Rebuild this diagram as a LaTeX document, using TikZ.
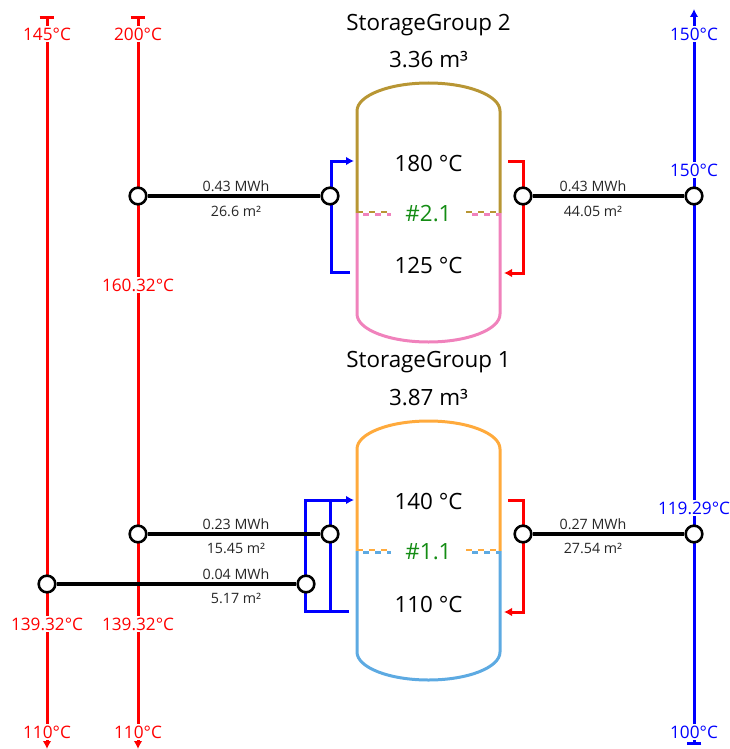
\documentclass[tikz,border=0pt]{standalone}
\usepackage{fontspec}
\setmainfont{Open Sans}
\usetikzlibrary{arrows.meta}
\definecolor{tgold}{RGB}{184,150,52}
\definecolor{tpink}{RGB}{240,130,188}
\definecolor{torange}{RGB}{255,170,60}
\definecolor{tsky}{RGB}{93,170,226}
\definecolor{tgreen}{RGB}{20,140,20}
\definecolor{tred}{RGB}{255,0,0}
\definecolor{tblue}{RGB}{0,0,255}
\begin{document}
\begin{tikzpicture}[x=0.75pt,y=-0.75pt,
  vline/.style={line width=2.25pt},
  conn/.style={line width=2.3pt, draw=black},
  port/.style={circle, draw=black, fill=white, line width=1.9pt, minimum size=12.5pt, inner sep=0pt},
  templbl/.style={fill=white, inner xsep=2.5pt, inner ysep=1.5pt, font=\fontsize{12.9}{14}\selectfont},
  smalllbl/.style={font=\fontsize{10.7}{12}\selectfont, text=black!85, inner sep=0pt},
  bigtxt/.style={font=\fontsize{16.8}{19}\selectfont, inner sep=0pt},
  tankline/.style={line width=2.25pt},
  bracket/.style={line width=2.25pt},
  divgold/.style={line width=1.7pt, dash pattern=on 4.5pt off 4.5pt},
  divother/.style={line width=1.7pt, dash pattern=on 4.5pt off 4.5pt, dash phase=4.5pt},
  endarrow/.style={-{Latex[length=6pt,width=6.5pt]}}
]
\useasboundingbox (0,0) rectangle (730,749);

% ---------------- vertical supply lines ----------------
\coordinate (r1t) at (47,16);  \coordinate (r1b) at (47,749);
\coordinate (r2t) at (138,16); \coordinate (r2b) at (138,749);
\coordinate (b1t) at (694,9);  \coordinate (b1b) at (694,745);
\draw[vline, tred, {Bar[width=11pt]}-{Latex[length=6pt,width=6.5pt]}] (r1t) -- (r1b);
\draw[vline, tred, {Bar[width=11pt]}-{Latex[length=6pt,width=6.5pt]}] (r2t) -- (r2b);
\draw[vline, tblue, {Bar[width=11pt]}-{Latex[length=6pt,width=6.5pt]}] (b1b) -- (b1t);

% ---------------- tank 2 ----------------
\draw[tankline, tgold] (357,213) -- (357,111) arc[start angle=180, end angle=0, x radius=53.625pt, y radius=21pt] -- (500,213);
\draw[tankline, tpink] (357,213) -- (357,314) arc[start angle=180, end angle=360, x radius=53.625pt, y radius=21pt] -- (500,213);
\draw[divgold, tgold] (357,212) -- (391,212);
\draw[divother, tpink] (357,214.5) -- (391,214.5);
\draw[divgold, tgold] (466,212) -- (500,212);
\draw[divother, tpink] (466,214.5) -- (500,214.5);

% ---------------- tank 1 ----------------
\draw[tankline, torange] (357,551) -- (357,449) arc[start angle=180, end angle=0, x radius=53.625pt, y radius=21pt] -- (500,551);
\draw[tankline, tsky] (357,551) -- (357,652) arc[start angle=180, end angle=360, x radius=53.625pt, y radius=21pt] -- (500,551);
\draw[divgold, torange] (357,550) -- (391,550);
\draw[divother, tsky] (357,552.5) -- (391,552.5);
\draw[divgold, torange] (466,550) -- (500,550);
\draw[divother, tsky] (466,552.5) -- (500,552.5);

% ---------------- tank texts ----------------
\node[bigtxt] (sg2) at (428.5,25) {StorageGroup 2};
\node[bigtxt] (v2) at (428.5,60) {3.36 m³};
\node[bigtxt] (t2h) at (428.5,163) {180 °C};
\node[bigtxt, text=tgreen] (id2) at (428.5,214) {\#2.1};
\node[bigtxt] (t2c) at (428.5,265) {125 °C};
\node[bigtxt] (sg1) at (428.5,362) {StorageGroup 1};
\node[bigtxt] (v1) at (428.5,398) {3.87 m³};
\node[bigtxt] (t1h) at (428.5,501) {140 °C};
\node[bigtxt, text=tgreen] (id1) at (428.5,552) {\#1.1};
\node[bigtxt] (t1c) at (428.5,604) {110 °C};

% ---------------- brackets ----------------
\coordinate (bl2a) at (350,272); \coordinate (bl2b) at (331,272);
\coordinate (bl2c) at (331,161); \coordinate (bl2d) at (354,161);
\draw[bracket, tblue, endarrow] (bl2a) -- (bl2b) -- (bl2c) -- (bl2d);
\coordinate (br2a) at (508,161); \coordinate (br2b) at (523,161);
\coordinate (br2c) at (523,273); \coordinate (br2d) at (504,273);
\draw[bracket, tred, endarrow] (br2a) -- (br2b) -- (br2c) -- (br2d);

\coordinate (bl1a) at (349,611); \coordinate (bl1b) at (305,611);
\coordinate (bl1c) at (305,500); \coordinate (bl1d) at (354,500);
\coordinate (bl1e) at (330,500); \coordinate (bl1f) at (330,611);
\draw[bracket, tblue, endarrow] (bl1a) -- (bl1b) -- (bl1c) -- (bl1d);
\draw[bracket, tblue] (bl1e) -- (bl1f);
\coordinate (br1a) at (508,500); \coordinate (br1b) at (523,500);
\coordinate (br1c) at (523,612); \coordinate (br1d) at (504,612);
\draw[bracket, tred, endarrow] (br1a) -- (br1b) -- (br1c) -- (br1d);

% ---------------- ports ----------------
\node[port] (p2a) at (138,196) {};
\node[port] (p2b) at (330,196) {};
\node[port] (p2c) at (523,196) {};
\node[port] (p2d) at (694,196) {};
\node[port] (p1a) at (138,534) {};
\node[port] (p1b) at (330,534) {};
\node[port] (p1c) at (523,534) {};
\node[port] (p1d) at (694,534) {};
\node[port] (p0a) at (47,584) {};
\node[port] (p0b) at (306,584) {};

\draw[conn] (p2a) -- (p2b);
\draw[conn] (p2c) -- (p2d);
\draw[conn] (p1a) -- (p1b);
\draw[conn] (p1c) -- (p1d);
\draw[conn] (p0a) -- (p0b);

% connector labels
\node[smalllbl] (e1a) at (236,186) {0.43 MWh};
\node[smalllbl] (e1b) at (236,211) {26.6 m²};
\node[smalllbl] (e2a) at (593,186) {0.43 MWh};
\node[smalllbl] (e2b) at (593,211) {44.05 m²};
\node[smalllbl] (e3a) at (236,524) {0.23 MWh};
\node[smalllbl] (e3b) at (236,548) {15.45 m²};
\node[smalllbl] (e4a) at (593,524) {0.27 MWh};
\node[smalllbl] (e4b) at (593,548) {27.54 m²};
\node[smalllbl] (e5a) at (236,574) {0.04 MWh};
\node[smalllbl] (e5b) at (236,598) {5.17 m²};

% ---------------- temperature labels ----------------
\node[templbl, text=tred] (l1) at (47,34) {145°C};
\node[templbl, text=tred] (l2) at (138,34) {200°C};
\node[templbl, text=tred] (l3) at (138,285) {160.32°C};
\node[templbl, text=tred] (l4) at (47,624) {139.32°C};
\node[templbl, text=tred] (l5) at (138,624) {139.32°C};
\node[templbl, text=tred] (l6) at (47,732) {110°C};
\node[templbl, text=tred] (l7) at (138,732) {110°C};
\node[templbl, text=tblue] (l8) at (694,34) {150°C};
\node[templbl, text=tblue] (l9) at (694,170) {150°C};
\node[templbl, text=tblue] (l10) at (694,508) {119.29°C};
\node[templbl, text=tblue] (l11) at (694,732) {100°C};
\end{tikzpicture}
\end{document}
